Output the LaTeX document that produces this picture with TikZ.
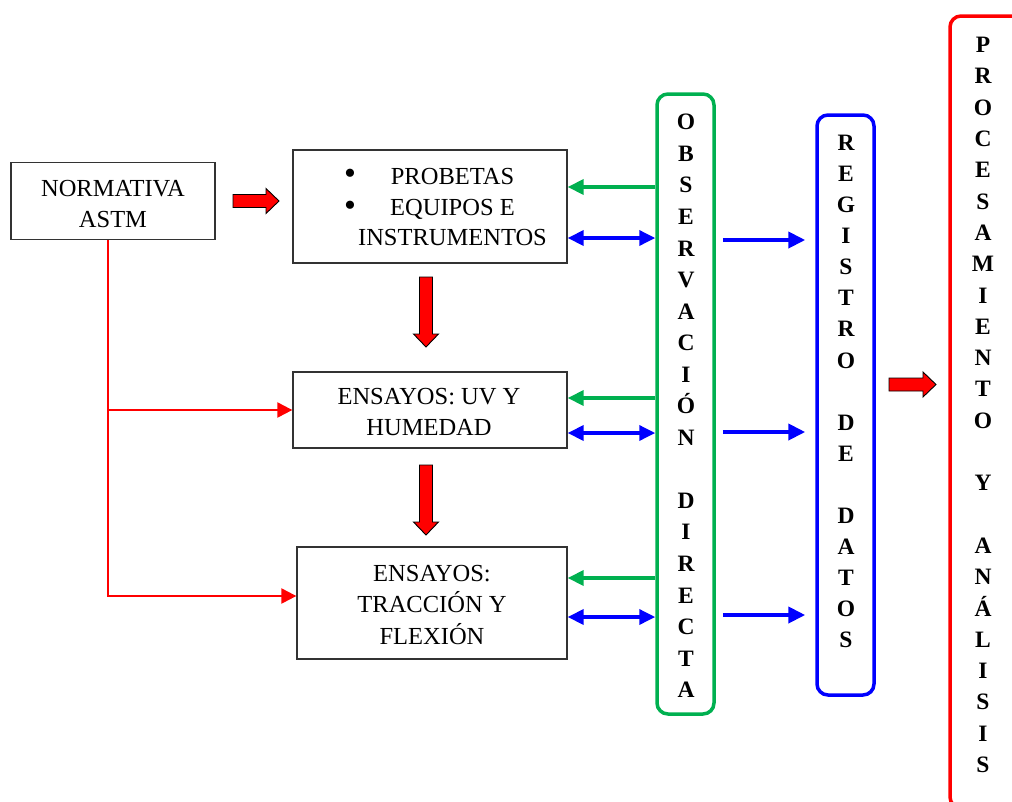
\documentclass[tikz,border=0pt]{standalone}
\usepackage{fontspec}
\setmainfont{Liberation Serif}
\usetikzlibrary{arrows.meta}
\definecolor{obsgreen}{HTML}{00B050}
\definecolor{regblue}{HTML}{0000FF}
\definecolor{procred}{HTML}{FF0000}
\definecolor{boxline}{HTML}{333333}

\begin{document}
\begin{tikzpicture}[x=1pt,y=-1pt,
  stepbox/.style={draw=boxline, line width=1.3pt, inner sep=0pt},
  boxtext/.style={inner sep=0pt, align=center, font=\fontsize{24.5}{#1}\selectfont},
  boxtext/.default=31,
  column/.style={draw=#1, rounded corners=11pt, line width=3.5pt, inner sep=0pt},
  letters/.style={inner sep=0pt, align=center, font=\bfseries\fontsize{23.5}{#1}\selectfont},
  bulletmark/.style={inner sep=0pt, font=\fontsize{34}{34}\selectfont},
  greenarrow/.style={draw=obsgreen, line width=3.5pt, -{Triangle[length=16pt,width=15pt]}},
  bluetwoway/.style={draw=regblue, line width=3.5pt,
    {Triangle[length=16pt,width=15pt]}-{Triangle[length=16pt,width=15pt]}},
  blueflow/.style={draw=regblue, line width=4pt, -{Triangle[length=17pt,width=16pt]},
    shorten <=7pt, shorten >=10pt},
  redlink/.style={draw=procred, line width=2.2pt, -{Triangle[length=15pt,width=15pt]}},
  pics/blockarrow/.style={code={
    \filldraw[fill=procred, draw=black, line width=0.9pt]
      (0,-6.5) -- ({#1-13},-6.5) -- ({#1-13},-12.5) -- (#1,0)
      -- ({#1-13},12.5) -- ({#1-13},6.5) -- (0,6.5) -- cycle;}}
]
\useasboundingbox (0,0) rectangle (1012,801);
\clip (0,0) rectangle (1012,801);

% left-hand boxes
\node[stepbox, minimum width=204pt, minimum height=77pt] (normativa) at (113,201) {};
\node[boxtext] (normtext) at (113,204) {NORMATIVA\\ASTM};
\node[stepbox, minimum width=274pt, minimum height=113pt] (probetas) at (430,206.5) {};
\node[boxtext=30.5] (probtext) at (452.5,207.5) {PROBETAS\\EQUIPOS E\\INSTRUMENTOS};
\node[bulletmark] (bulA) at (350,177) {\textbullet};
\node[bulletmark] (bulB) at (350,209) {\textbullet};
\node[stepbox, minimum width=274pt, minimum height=76pt] (uv) at (430,410) {};
\node[boxtext] (uvtext) at (429,412.5) {ENSAYOS: UV Y\\HUMEDAD};
\node[stepbox, minimum width=270pt, minimum height=112pt] (traccion) at (432,603) {};
\node[boxtext=31.5] (tractext) at (432,604.5) {ENSAYOS:\\TRACCIÓN Y\\FLEXIÓN};

% vertical columns
\node[column=obsgreen, minimum width=57pt, minimum height=620pt] (obs) at (685.5,404) {};
\node[letters=31.55] (obstext) at (686,406)
  {O\\B\\S\\E\\R\\V\\A\\C\\I\\Ó\\N\\[31.55pt]D\\I\\R\\E\\C\\T\\A};
\node[column=regblue, minimum width=57pt, minimum height=580pt] (reg) at (845.5,405) {};
\node[letters=31.06] (regtext) at (846,391.5)
  {R\\E\\G\\I\\S\\T\\R\\O\\[31.06pt]D\\E\\[31.06pt]D\\A\\T\\O\\S};
\node[column=procred, minimum width=72pt, minimum height=792pt] (proc) at (986,412) {};
\node[letters=31.3] (proctext) at (983,405)
  {P\\R\\O\\C\\E\\S\\A\\M\\I\\E\\N\\T\\O\\[31.3pt]Y\\[31.3pt]A\\N\\Á\\L\\I\\S\\I\\S};

% block arrows between stages
\pic at (233,201) {blockarrow=46};
\pic[rotate=-90] at (426,277) {blockarrow=70};
\pic[rotate=-90] at (426,465) {blockarrow=70};
\pic at (889,384.5) {blockarrow=47};

% standard links from the ASTM box
\coordinate (trunk) at ([xshift=-5pt]normativa.south);
\draw[redlink] (trunk) |- ([yshift=7pt]traccion.west);
\draw[redlink] (trunk |- uv.west) -- (uv.west);

% observation links
\draw[greenarrow] (obs.west |- 0,187) -- (probetas.east |- 0,187);
\draw[greenarrow] (obs.west |- 0,398) -- (uv.east |- 0,398);
\draw[greenarrow] (obs.west |- 0,578) -- (traccion.east |- 0,578);
\draw[bluetwoway] (probetas.east |- 0,238) -- (obs.west |- 0,238);
\draw[bluetwoway] (uv.east |- 0,433) -- (obs.west |- 0,433);
\draw[bluetwoway] (traccion.east |- 0,617) -- (obs.west |- 0,617);

% data flow into the register
\draw[blueflow] (obs.east |- 0,240) -- (reg.west |- 0,240);
\draw[blueflow] (obs.east |- 0,432) -- (reg.west |- 0,432);
\draw[blueflow] (obs.east |- 0,615) -- (reg.west |- 0,615);
\end{tikzpicture}
\end{document}
